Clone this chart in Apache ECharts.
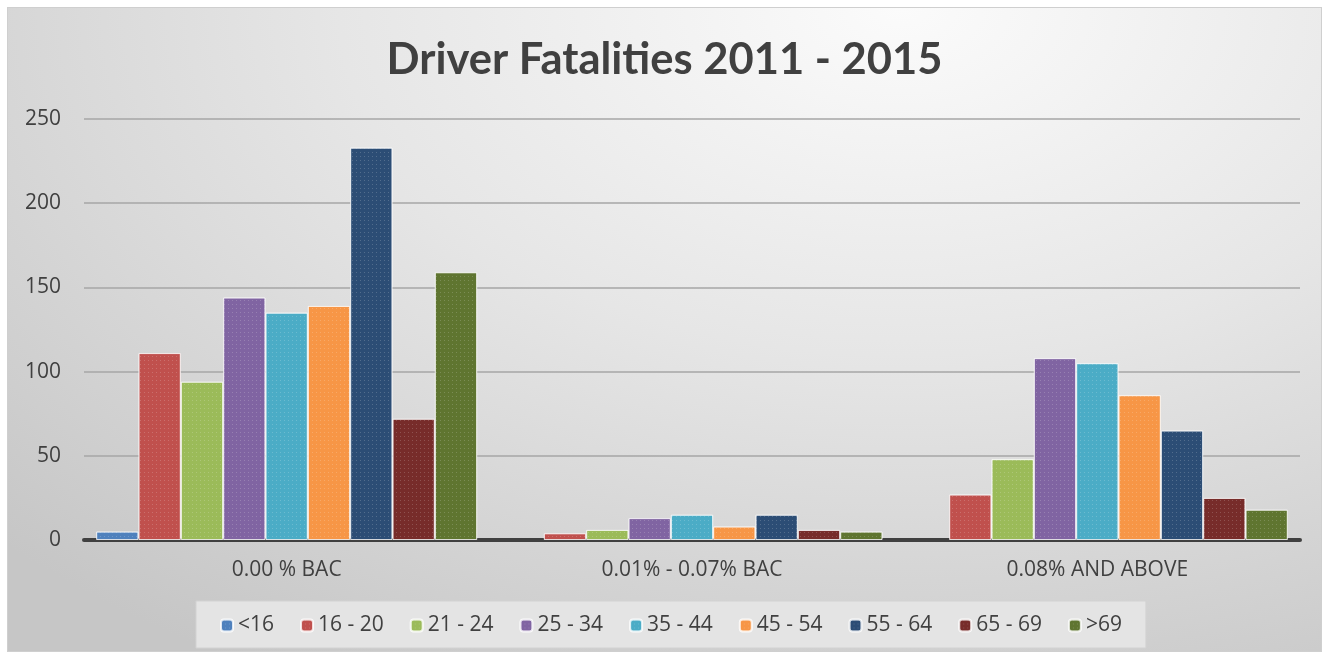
<!DOCTYPE html>
<html lang="en">
<head>
    <meta charset="UTF-8">
    <script src="https://cdn.jsdelivr.net/npm/echarts@6/dist/echarts.min.js"></script>
    <title>Driver Fatalities 2011 - 2015</title>
    <style>
        html, body { margin: 0; width: 100%; height: 100%; background: #fff; }
        #chart {
            position: absolute; left: 7px; top: 7px;
            width: 1315px; height: 645px; box-sizing: border-box;
            border: 1px solid #cfcfcf;
            background: radial-gradient(ellipse 95% 120% at 68% 0%, #fbfbfb 0%, #e6e6e6 45%, #c6c6c6 100%);
        }
    </style>
</head>
<body>
    <div id="chart"></div>
    <script>
        // BAC levels on the x axis
        var categories = ['0.00 % BAC', '0.01% - 0.07% BAC', '0.08% AND ABOVE'];
        var ageGroups = ['<16', '16 - 20', '21 - 24', '25 - 34', '35 - 44', '45 - 54', '55 - 64', '65 - 69', '>69'];

        // one value per age group, in the order above
        var bac000 = [5, 111, 94, 144, 135, 139, 233, 72, 159];
        var bac001 = [0, 4, 6, 13, 15, 8, 15, 6, 5];
        var bac008 = [0, 27, 48, 108, 105, 86, 65, 25, 18];

        var colors = ['#4f81bd', '#c0504d', '#9bbb59', '#8064a2', '#4bacc6', '#f79646', '#2c4d75', '#772c2a', '#5f7530'];

        var chart = echarts.init(document.getElementById('chart'));

        // zero bars are not drawn at all in the original (no border sliver)
        function v(x) { return x === 0 ? '-' : x; }

        var series = ageGroups.map(function (name, i) {
            return {
                name: name,
                type: 'bar',
                barGap: 0,
                barCategoryGap: '6%',
                data: [v(bac000[i]), v(bac001[i]), v(bac008[i])],
                itemStyle: {
                    color: colors[i],
                    borderColor: 'rgba(255,255,255,0.55)',
                    borderWidth: 1,
                    decal: {
                        symbol: 'rect',
                        symbolSize: 1,
                        dashArrayX: [1, 3],
                        dashArrayY: [1, 3],
                        color: 'rgba(255,255,255,0.18)'
                    }
                }
            };
        });

        chart.setOption({
            animation: false,
            backgroundColor: 'transparent',
            textStyle: { fontFamily: 'Open Sans' },
            title: {
                text: 'Driver Fatalities 2011 - 2015',
                left: 'center',
                top: 25,
                textStyle: { fontFamily: 'Lato', fontWeight: 'bold', fontSize: 43.5, color: '#404040' }
            },
            legend: {
                data: ageGroups,
                left: 188,
                top: 593,
                padding: [14, 24, 12, 24],
                itemGap: 26,
                itemWidth: 12,
                itemHeight: 12,
                backgroundColor: '#e4e4e4',
                borderColor: '#d2d2d2',
                borderWidth: 1,
                textStyle: { fontFamily: 'Open Sans', fontSize: 21, color: '#404040' }
            },
            grid: { left: 76, right: 21, top: 111, bottom: 111 },
            xAxis: {
                type: 'category',
                data: categories,
                axisLine: { lineStyle: { color: '#404040', width: 4 } },
                axisTick: { show: false },
                axisLabel: { margin: 20, fontSize: 21, color: '#404040' }
            },
            yAxis: {
                type: 'value',
                min: 0,
                max: 250,
                interval: 50,
                axisLine: { show: false },
                axisTick: { show: false },
                axisLabel: { margin: 23, fontSize: 21, color: '#404040' },
                splitLine: { lineStyle: { color: '#a6a6a6', width: 1.5 } }
            },
            series: series
        });
    </script>
</body>
</html>
